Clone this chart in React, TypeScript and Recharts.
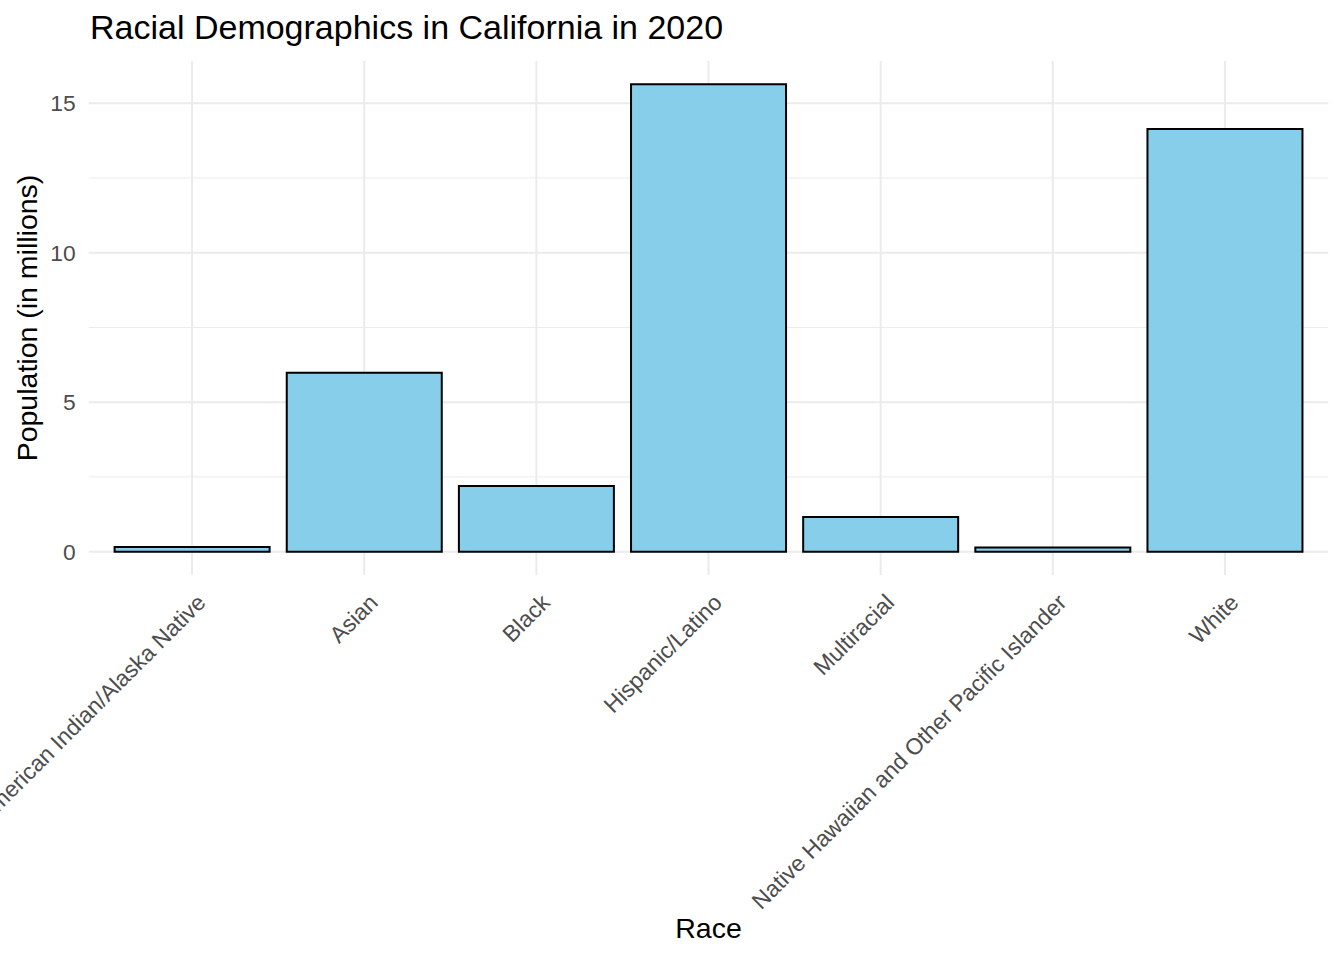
import { BarChart, Bar, XAxis, YAxis, CartesianGrid } from "recharts";

const categories = [
  "American Indian/Alaska Native",
  "Asian",
  "Black",
  "Hispanic/Latino",
  "Multiracial",
  "Native Hawaiian and Other Pacific Islander",
  "White",
];
// population in millions
const population = [0.16, 5.98, 2.2, 15.63, 1.16, 0.14, 14.14];
const yTicks = [0, 5, 10, 15];
const minorTicks = [2.5, 7.5, 12.5];

const data = categories.map((race, i) => ({ race, population: population[i] }));

const FONT = '"Liberation Sans", Arial, sans-serif';

function RaceTick({ x, payload }: any) {
  return (
    <g transform={`translate(${x + 15},604) rotate(-45)`}>
      <text textAnchor="end" fill="#4d4d4d" fontSize={22.8} fontFamily={FONT}>
        {payload.value}
      </text>
    </g>
  );
}

export default function App() {
  return (
    <div style={{ position: "absolute", left: 0, top: 0, width: 1344, height: 960, background: "#fff" }}>
      <BarChart
        width={1344}
        height={960}
        data={data}
        margin={{ top: 61, right: 15.7, left: 0, bottom: 0 }}
        barCategoryGap="5%"
      >
        <CartesianGrid
          horizontalValues={minorTicks}
          vertical={false}
          stroke="#ebebeb"
          strokeWidth={1}
        />
        <CartesianGrid
          horizontalValues={yTicks}
          syncWithTicks
          stroke="#ebebeb"
          strokeWidth={2}
        />
        <XAxis
          dataKey="race"
          type="category"
          height={385}
          padding={{ left: 17.3, right: 17.3 }}
          axisLine={false}
          tickLine={false}
          tickSize={0}
          interval={0}
          tick={<RaceTick />}
        />
        <YAxis
          type="number"
          width={88.7}
          domain={[-0.78, 16.41]}
          allowDataOverflow
          ticks={yTicks}
          axisLine={false}
          tickLine={false}
          tickSize={0}
          tickMargin={13}
          tick={{ fill: "#4d4d4d", fontSize: 22.8, fontFamily: FONT }}
        />
        <Bar
          dataKey="population"
          fill="#87ceeb"
          stroke="#000"
          strokeWidth={2}
          isAnimationActive={false}
        />
      </BarChart>
      <svg
        width={1344}
        height={960}
        style={{ position: "absolute", left: 0, top: 0, pointerEvents: "none" }}
      >
        <text x={90} y={38.5} fontSize={34} fontFamily={FONT} fill="#000">
          Racial Demographics in California in 2020
        </text>
        <text x={708.5} y={938} textAnchor="middle" fontSize={28.5} fontFamily={FONT} fill="#000">
          Race
        </text>
        <text
          transform="translate(37,318) rotate(-90)"
          textAnchor="middle"
          fontSize={28.5}
          fontFamily={FONT}
          fill="#000"
        >
          Population (in millions)
        </text>
      </svg>
    </div>
  );
}
